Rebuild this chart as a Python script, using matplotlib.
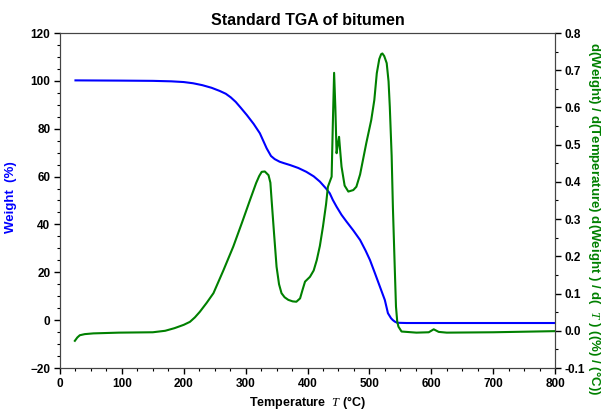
import matplotlib.pyplot as plt
from matplotlib.ticker import MultipleLocator

plt.rcParams['font.family'] = ['Liberation Sans', 'DejaVu Sans']
plt.rcParams['mathtext.fontset'] = 'custom'
plt.rcParams['mathtext.it'] = 'Liberation Serif:italic'
plt.rcParams['mathtext.rm'] = 'Liberation Serif'

# weight curve (%)
temp_w = [25, 100, 150, 180, 200, 215, 230, 245, 258, 268, 276, 284, 292, 302,
          313, 323, 334, 341, 347, 355, 362, 372, 385, 398, 410, 420, 430, 436,
          441, 447, 455, 463, 474, 485, 494, 501, 509, 517, 525, 530, 535, 538,
          541, 545, 560, 600, 700, 800]
weight = [100.2, 100.1, 100.0, 99.8, 99.5, 99.0, 98.2, 97.1, 95.8, 94.6, 93.1,
          91.2, 88.8, 85.7, 82.0, 78.1, 71.8, 68.6, 67.3, 66.2, 65.6, 64.8, 63.6,
          62.0, 60.1, 57.9, 55.0, 53.0, 50.2, 47.4, 44.0, 41.2, 37.5, 33.5, 29.0,
          25.1, 19.6, 14.0, 8.4, 2.9, 0.8, 0.0, -0.6, -1.1, -1.2, -1.2, -1.2,
          -1.2]

# derivative curve
temp_d = [24, 28, 32, 40, 54, 95, 150, 170, 185, 200, 210, 218, 226, 237, 248,
          264, 280, 294, 307, 317, 322, 326, 331, 337, 340, 342, 346, 350, 354,
          358, 363, 369, 376, 382, 388, 392, 396, 404, 410, 415, 420, 425, 430,
          433, 437, 439, 441, 443, 445, 447, 449, 451, 453, 455, 460, 466, 474,
          479, 485, 495, 503, 508, 512, 516, 519, 521, 524, 528, 531, 533, 536,
          538, 541, 543, 545, 547, 552, 576, 596, 604, 612, 625, 700, 800]
deriv = [-0.027, -0.018, -0.012, -0.009, -0.007, -0.005, -0.004, 0.0, 0.007,
         0.016, 0.024, 0.036, 0.051, 0.075, 0.101, 0.162, 0.226, 0.290, 0.351,
         0.397, 0.416, 0.427, 0.428, 0.418, 0.398, 0.351, 0.260, 0.172, 0.125,
         0.101, 0.090, 0.083, 0.079, 0.078, 0.087, 0.110, 0.132, 0.145, 0.162,
         0.190, 0.228, 0.280, 0.340, 0.387, 0.405, 0.414, 0.560, 0.693, 0.600,
         0.477, 0.500, 0.521, 0.480, 0.441, 0.390, 0.374, 0.378, 0.387, 0.420,
         0.504, 0.566, 0.620, 0.692, 0.730, 0.743, 0.745, 0.738, 0.719, 0.670,
         0.602, 0.470, 0.333, 0.170, 0.065, 0.025, 0.011, -0.002, -0.005,
         -0.004, 0.004, -0.003, -0.005, -0.004, -0.001]

fig = plt.figure(figsize=(6.08, 4.11), dpi=100)
ax = fig.add_axes([60 / 608, 1 - 368 / 411, 495 / 608, 335 / 411])
ax2 = ax.twinx()

ax.plot(temp_w, weight, color='#0000ff', lw=1.5)
ax2.plot(temp_d, deriv, color='#008000', lw=1.5)

ax.set_xlim(0, 800)
ax.set_ylim(-20, 120)
ax2.set_ylim(-0.1, 0.8)
ax.xaxis.set_major_locator(MultipleLocator(100))
ax.xaxis.set_minor_locator(MultipleLocator(25))
ax.yaxis.set_major_locator(MultipleLocator(20))
ax.yaxis.set_minor_locator(MultipleLocator(5))
ax2.yaxis.set_major_locator(MultipleLocator(0.1))
ax2.yaxis.set_minor_locator(MultipleLocator(0.05))
ax2.set_yticklabels(['{:.1f}'.format(v) for v in ax2.get_yticks()])

for a in (ax, ax2):
    a.tick_params(which='major', length=4, width=1, pad=3, labelsize=8.5)
    a.tick_params(which='minor', length=2, width=0.8)
    for lab in a.get_xticklabels() + a.get_yticklabels():
        lab.set_fontweight('bold')
    for s in a.spines.values():
        s.set_color('#444444')

ax.set_title('Standard TGA of bitumen', fontsize=11.5, fontweight='bold', pad=6)
ax.set_xlabel('Temperature  $T$ (°C)', fontsize=9, fontweight='bold', labelpad=3)
ax.set_ylabel('Weight  (%)', fontsize=9.5, fontweight='bold', color='#0000ff')
ax.yaxis.set_label_coords(-0.087, 0.51)
ax2.set_ylabel('d(Weight) / d(Temperature) d(Weight ) / d(  $T$ ) ((%) / (°C))',
               fontsize=9.5, fontweight='bold', color='#008000', rotation=270)
ax2.yaxis.set_label_coords(1.097, 0.445)

plt.savefig('out.png', dpi=100)
